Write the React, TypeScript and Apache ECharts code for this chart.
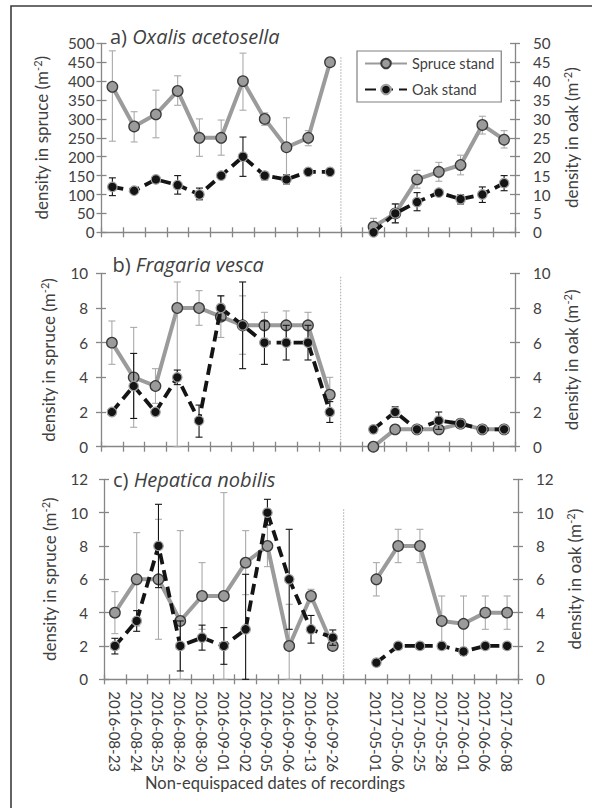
import React, { useEffect, useRef } from 'react';
import * as echarts from 'echarts';

// ---------- data ----------
const dates = [
  '2016-08-23', '2016-08-24', '2016-08-25', '2016-08-26', '2016-08-30', '2016-09-01',
  '2016-09-02', '2016-09-05', '2016-09-06', '2016-09-13', '2016-09-26', '',
  '2017-05-01', '2017-05-06', '2017-05-25', '2017-05-28', '2017-06-01', '2017-06-06', '2017-06-08',
];

// a) Oxalis acetosella — spruce on left axis, oak on right axis
const spruceA = [385, 280, 312, 374, 250, 250, 400, 300, 225, 250, 450, null, 15, 50, 140, 160, 178, 284, 245];
const spruceAHi = [480, 319, 376, 414, 300, 297, 474, 316, 303, 269, null, null, 37, 75, 164, 185, 204, 307, 269];
const spruceALo = [241, 239, 250, 336, 201, 204, 323, 283, 147, 229, null, null, 0, 25, 117, 135, 152, 260, 223];
const oakA = [12, 11, 14, 12.5, 10, 15, 20, 15, 14, 16, 16, null, 0, 5, 8, 10.5, 8.8, 10, 13];
const oakAHi = [14.4, null, null, 15, 11.7, null, 25.2, 15.9, 15.2, 16.5, 16.4, null, null, 7.5, 10.5, null, 9.9, 12, 15];
const oakALo = [9.7, null, null, 10.1, 8.6, null, 14.8, 13.9, 12.8, 15.5, 15.6, null, null, 2.5, 5.7, null, 7.5, 7.9, 11];

// b) Fragaria vesca
const spruceB = [6, 4, 3.5, 8, 8, 7.5, 7, 7, 7, 7, 3, null, 0, 1, 1, 1, 1.33, 1, 1];
const spruceBHi = [7.25, 6.88, 4.5, 9.5, 9.0, 8.7, 8.7, 7.75, 7.83, 7.75, 4.0, null, null, null, null, null, null, null, null];
const spruceBLo = [4.75, 1.12, 2.5, 0, 7.0, 6.3, 5.33, 6.25, 6.17, 6.25, 2.0, null, null, null, null, null, null, null, null];
const oakB = [2, 3.5, 2, 4, 1.5, 8, 7, 6, 6, 6, 2, null, 1, 2, 1, 1.5, 1.33, 1, 1];
const oakBHi = [null, 5.38, null, 4.42, 2.4, 8.7, 9.5, 7.25, 7.0, 7.0, 2.6, null, 1.2, 2.3, 1.2, 2.0, 1.55, 1.2, 1.2];
const oakBLo = [null, 1.63, null, 3.58, 0.55, 7.3, 4.5, 4.75, 5.0, 5.0, 1.4, null, 0.8, 1.7, 0.8, 1.0, 1.1, 0.8, 0.8];

// c) Hepatica nobilis
const spruceC = [4, 6, 6, 3.5, 5, 5, 7, 8, 2, 5, 2, null, 6, 8, 8, 3.5, 3.33, 4, 4];
const spruceCHi = [5.26, 8.8, 9.6, 8.92, 7.0, 11.2, 8.92, 9.24, 4.5, 5.4, 2.2, null, 7, 9, 9, 5, 5, 5, 5];
const spruceCLo = [2.74, 3.2, 2.4, 0, 3.0, 0, 5.08, 6.76, 0, 4.6, 1.8, null, 5, 7, 7, 2, 1.66, 3, 3];
const oakC = [2, 3.5, 8, 2, 2.5, 2, 3, 10, 6, 3, 2.5, null, 1, 2, 2, 2, 1.67, 2, 2];
const oakCHi = [2.46, 4.12, 10.5, 3.5, 3.25, 3.1, 6.3, 10.8, 9.0, 3.83, 2.96, null, 1.2, 2.2, 2.2, 2.2, 1.9, 2.2, 2.2];
const oakCLo = [1.52, 2.88, 5.5, 0.5, 1.75, 0.9, 0, 9.26, 3.0, 2.17, 2.04, null, 0.8, 1.8, 1.8, 1.8, 1.44, 1.8, 1.8];

// axis ranges [min, max, interval]
const leftRanges = [[0, 500, 50], [0, 10, 2], [0, 12, 2]];
const rightRanges = [[0, 50, 5], [0, 10, 2], [0, 12, 2]];
// top of the dotted separator line (left-axis units)
const sepTops = [463, 9.8, 10.2];

const panelLetters = ['a)', 'b)', 'c)'];
const species = ['Oxalis acetosella', 'Fragaria vesca', 'Hepatica nobilis'];
const seriesNames = ['Spruce stand', 'Oak stand'];
const leftName = 'density in spruce (m{s|-2})';
const rightName = 'density in oak (m{s|-2})';
const xName = 'Non-equispaced dates of recordings';

// ---------- style / layout ----------
const FONT = 'Lato, "Open Sans", sans-serif';
const TITLE_FONT = '"Open Sans", Lato, sans-serif';
const TXT = '#404040';
const AXIS = '#868686';
const SPRUCE = '#9b9b9b';
const OAK = '#141414';

const grids = [
  { left: 101.5, top: 43.3, width: 413.5, height: 189 },
  { left: 101, top: 273.3, width: 414, height: 173.4 },
  { left: 104, top: 479.3, width: 414, height: 200 },
];
const leftLabelMargin = [7, 13, 16];
const leftNameGap = [51, 43, 43];
const rightNameGap = [45, 43, 45];
const titleTop = [24, 252.5, 467];
const titleLeft = [110, 112.5, 113];

const panels = [
  { spruce: spruceA, sLo: spruceALo, sHi: spruceAHi, oak: oakA, oLo: oakALo, oHi: oakAHi },
  { spruce: spruceB, sLo: spruceBLo, sHi: spruceBHi, oak: oakB, oLo: oakBLo, oHi: oakBHi },
  { spruce: spruceC, sLo: spruceCLo, sHi: spruceCHi, oak: oakC, oLo: oakCLo, oHi: oakCHi },
];

function errSeries(gi: number, yIdx: number, lo: (number | null)[], hi: (number | null)[], color: string, z: number) {
  const data: any[] = [];
  lo.forEach((l, i) => {
    const h = hi[i];
    if (l != null && h != null) data.push([i, l, h]);
  });
  return {
    type: 'custom',
    xAxisIndex: gi * 2,
    yAxisIndex: yIdx,
    z,
    silent: true,
    data,
    encode: { x: 0, y: [1, 2] },
    renderItem: (_p: any, api: any) => {
      const x = api.value(0);
      const a = api.coord([x, api.value(1)]);
      const b = api.coord([x, api.value(2)]);
      const w = 3.5;
      const st = { stroke: color, lineWidth: 1.1, fill: 'none' };
      return {
        type: 'group',
        children: [
          { type: 'line', shape: { x1: a[0], y1: a[1], x2: b[0], y2: b[1] }, style: st },
          { type: 'line', shape: { x1: a[0] - w, y1: a[1], x2: a[0] + w, y2: a[1] }, style: st },
          { type: 'line', shape: { x1: b[0] - w, y1: b[1], x2: b[0] + w, y2: b[1] }, style: st },
        ],
      };
    },
  };
}

function buildOption() {
  const gapIndex = dates.indexOf('');
  const axisLineStyle = { color: AXIS, width: 1.3 };
  const xAxis: any[] = [];
  const yAxis: any[] = [];
  const series: any[] = [];
  const nameRich = {
    s: { fontSize: 11, lineHeight: 10, verticalAlign: 'top', color: TXT, fontFamily: FONT },
  };

  grids.forEach((_g, gi) => {
    xAxis.push({
      type: 'category', gridIndex: gi, data: dates, boundaryGap: true, position: 'bottom',
      axisLine: { show: true, lineStyle: axisLineStyle },
      axisTick: { show: true, length: 5, interval: 0, lineStyle: axisLineStyle },
      axisLabel: gi === 2
        ? { show: true, interval: 0, rotate: -90, margin: 12, fontSize: 15, lineHeight: 15, color: TXT, fontFamily: FONT }
        : { show: false },
      splitLine: { show: false },
    });
    xAxis.push({
      type: 'category', gridIndex: gi, data: dates, boundaryGap: true, position: 'bottom',
      axisLine: { show: false },
      axisTick: { show: true, inside: true, length: 5, interval: 0, lineStyle: axisLineStyle },
      axisLabel: { show: false },
      splitLine: { show: false },
    });
    const [lmin, lmax, lint] = leftRanges[gi];
    const [rmin, rmax, rint] = rightRanges[gi];
    yAxis.push({
      type: 'value', gridIndex: gi, position: 'left', min: lmin, max: lmax, interval: lint,
      axisLine: { show: true, lineStyle: axisLineStyle },
      axisTick: { show: true, length: 5, lineStyle: axisLineStyle },
      axisLabel: { margin: leftLabelMargin[gi], fontSize: 15.2, lineHeight: 15, color: TXT, fontFamily: FONT },
      splitLine: { show: false },
      name: leftName, nameLocation: 'middle', nameGap: leftNameGap[gi],
      nameTextStyle: { fontSize: 17, color: TXT, fontFamily: FONT, lineHeight: 19, rich: nameRich },
    });
    yAxis.push({
      type: 'value', gridIndex: gi, position: 'left', min: lmin, max: lmax, interval: lint,
      axisLine: { show: false },
      axisTick: { show: true, inside: true, length: 5, lineStyle: axisLineStyle },
      axisLabel: { show: false }, splitLine: { show: false },
    });
    yAxis.push({
      type: 'value', gridIndex: gi, position: 'right', min: rmin, max: rmax, interval: rint,
      axisLine: { show: true, lineStyle: axisLineStyle },
      axisTick: { show: true, length: 5, lineStyle: axisLineStyle },
      axisLabel: { margin: 18, fontSize: 15.2, lineHeight: 15, color: TXT, fontFamily: FONT },
      splitLine: { show: false },
      name: rightName, nameLocation: 'middle', nameGap: rightNameGap[gi],
      nameTextStyle: { fontSize: 17, color: TXT, fontFamily: FONT, lineHeight: 19, rich: nameRich },
    });
    yAxis.push({
      type: 'value', gridIndex: gi, position: 'right', min: rmin, max: rmax, interval: rint,
      axisLine: { show: false },
      axisTick: { show: true, inside: true, length: 5, lineStyle: axisLineStyle },
      axisLabel: { show: false }, splitLine: { show: false },
    });

    const p = panels[gi];
    const yL = gi * 4;
    const yR = gi * 4 + 2;

    // dotted separator between the two seasons
    series.push({
      type: 'custom', xAxisIndex: gi * 2, yAxisIndex: yL, z: 1, silent: true,
      data: [[gapIndex, sepTops[gi]]],
      renderItem: (_p: any, api: any) => {
        const top = api.coord([api.value(0), api.value(1)]);
        const bot = api.coord([api.value(0), 0]);
        const half = api.size([1, 0])[0] / 2;
        const x = top[0] - half;
        return {
          type: 'line',
          shape: { x1: x, y1: top[1], x2: x, y2: bot[1] },
          style: { stroke: '#a8a8a8', lineWidth: 1, lineDash: [1.5, 1.5] },
        };
      },
    });

    series.push(errSeries(gi, yL, p.sLo, p.sHi, '#aaaaaa', 2));
    series.push({
      name: seriesNames[0], type: 'line', xAxisIndex: gi * 2, yAxisIndex: yL, z: 3,
      data: p.spruce, connectNulls: false,
      symbol: 'circle', symbolSize: 10.5,
      lineStyle: { color: SPRUCE, width: 4 },
      itemStyle: { color: SPRUCE, borderColor: '#3a3a3a', borderWidth: 1.3 },
    });
    series.push(errSeries(gi, yR, p.oLo, p.oHi, OAK, 4));
    series.push({
      name: seriesNames[1], type: 'line', xAxisIndex: gi * 2, yAxisIndex: yR, z: 5,
      data: p.oak, connectNulls: false,
      symbol: 'circle', symbolSize: 9.5,
      lineStyle: { color: OAK, width: 3.8, type: [11, 6] },
      itemStyle: { color: OAK, borderColor: '#a0a0a0', borderWidth: 1.2 },
    });
  });

  const titleRich = {
    n: { fontSize: 20, color: TXT, fontFamily: TITLE_FONT, fontWeight: 'normal', lineHeight: 24 },
    i: { fontSize: 20, color: TXT, fontFamily: TITLE_FONT, fontStyle: 'italic', fontWeight: 'normal', lineHeight: 24 },
  };

  return {
    animation: false,
    textStyle: { fontFamily: FONT },
    grid: grids.map((g) => ({ ...g, show: false, containLabel: false })),
    xAxis,
    yAxis,
    series,
    title: panelLetters.map((l, i) => ({
      text: `{n|${l} }{i|${species[i]}}`,
      left: titleLeft[i], top: titleTop[i], padding: 0,
      textStyle: { fontWeight: 'normal', rich: titleRich },
    })),
    legend: {
      show: true, data: seriesNames, orient: 'vertical', left: 357, top: 51,
      padding: [5, 7, 5, 7], itemWidth: 42, itemHeight: 12, itemGap: 11,
      borderColor: '#808080', borderWidth: 1.2, selectedMode: false,
      textStyle: { fontSize: 14.5, color: TXT, fontFamily: FONT, lineHeight: 14 },
    },
    graphic: [
      {
        type: 'rect', silent: true, z: -1,
        shape: { x: 11, y: 6, width: 620, height: 840 },
        style: { fill: 'none', stroke: '#3c3c3c', lineWidth: 1.6 },
      },
      {
        type: 'text', silent: true,
        style: { text: xName, x: 275, y: 783, textAlign: 'center', textVerticalAlign: 'middle', fontSize: 16.5, fill: TXT, fontFamily: FONT },
      },
    ],
  };
}

export default function App() {
  const ref = useRef<HTMLDivElement>(null);
  useEffect(() => {
    if (!ref.current) return;
    const chart = echarts.init(ref.current, undefined, { renderer: 'svg' });
    chart.setOption(buildOption() as any);
    return () => chart.dispose();
  }, []);
  return <div ref={ref} style={{ position: 'absolute', left: 0, top: 0, width: 592, height: 808 }} />;
}
